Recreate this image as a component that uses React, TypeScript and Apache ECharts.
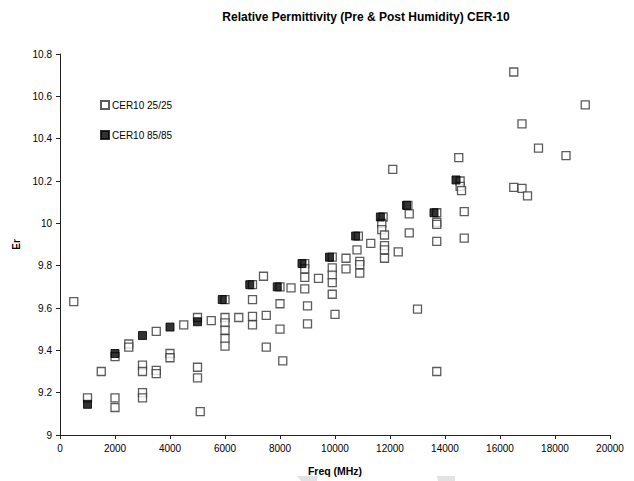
import React, { useEffect, useRef } from "react";
import * as echarts from "echarts";

const TITLE = "Relative Permittivity (Pre & Post Humidity) CER-10";
const X_NAME = "Freq (MHz)";
const Y_NAME = "Er";
const SERIES_NAMES = ["CER10 25/25", "CER10 85/85"];

// CER10 25/25 (open squares): [freq MHz, Er]
const pre: number[][] = [
  [500, 9.63], [1000, 9.175], [1500, 9.3], [2000, 9.37], [2000, 9.175], [2000, 9.13],
  [2500, 9.43], [2500, 9.415], [3000, 9.33], [3000, 9.3], [3000, 9.2], [3000, 9.175],
  [3500, 9.49], [3500, 9.305], [3500, 9.29], [4000, 9.385], [4000, 9.365], [4500, 9.52],
  [5000, 9.555], [5000, 9.32], [5000, 9.27], [5100, 9.11], [5500, 9.54],
  [6000, 9.555], [6000, 9.53], [6000, 9.495], [6000, 9.455], [6000, 9.42], [6000, 9.64],
  [6500, 9.555], [7000, 9.64], [7000, 9.56], [7000, 9.52], [7000, 9.71],
  [7400, 9.75], [7500, 9.565], [7500, 9.415], [8000, 9.62], [8000, 9.5], [8000, 9.7], [8100, 9.35],
  [8400, 9.695], [8900, 9.81], [8900, 9.785], [8900, 9.745], [8900, 9.69], [9000, 9.61], [9000, 9.525],
  [9400, 9.74], [9900, 9.84], [9900, 9.79], [9900, 9.755], [9900, 9.72], [9900, 9.665], [10000, 9.57],
  [10400, 9.835], [10400, 9.785], [10850, 9.94], [10800, 9.875], [10900, 9.82], [10900, 9.805], [10900, 9.765],
  [11300, 9.905], [11750, 10.03], [11700, 10.0], [11700, 9.97], [11800, 9.945], [11800, 9.895], [11800, 9.875], [11800, 9.835],
  [12100, 10.255], [12300, 9.865], [12650, 10.085], [12700, 10.045], [12700, 9.955], [13000, 9.595],
  [13700, 10.05], [13700, 10.005], [13700, 9.995], [13700, 9.915], [13700, 9.3],
  [14500, 10.31], [14550, 10.2], [14550, 10.175], [14600, 10.155], [14700, 10.055], [14700, 9.93],
  [16500, 10.715], [16500, 10.17], [16800, 10.47], [16800, 10.165], [17000, 10.13],
  [17400, 10.355], [18400, 10.32], [19100, 10.56],
];

// CER10 85/85 (filled squares)
const post: number[][] = [
  [1000, 9.145], [2000, 9.385], [3000, 9.47], [4000, 9.51], [5000, 9.535], [5900, 9.64],
  [6900, 9.71], [7900, 9.7], [8800, 9.81], [9800, 9.84], [10750, 9.94], [11650, 10.03],
  [12600, 10.085], [13600, 10.05], [14400, 10.205],
];

const X_MIN = 0, X_MAX = 20000, X_STEP = 2000;
const Y_MIN = 9, Y_MAX = 10.8, Y_STEP = 0.2;

const FONT = '"Liberation Sans", Arial, sans-serif';

export default function App() {
  const ref = useRef<HTMLDivElement>(null);
  useEffect(() => {
    if (!ref.current) return;
    const chart = echarts.init(ref.current, null, { renderer: "svg" });
    chart.setOption({
      animation: false,
      backgroundColor: "#fff",
      textStyle: { fontFamily: FONT },
      graphic: [
        {
          type: "text",
          x: 366,
          y: 17,
          style: {
            text: TITLE,
            fill: "#000",
            font: `bold 12px ${FONT}`,
            textAlign: "center",
            textVerticalAlign: "middle",
          },
        },
        {
          type: "polygon",
          shape: { points: [[297, 476], [318, 476], [317, 481], [301, 481]] },
          style: { fill: "#e2e2e2" },
        },
        {
          type: "polygon",
          shape: { points: [[437, 476], [455, 476], [455, 481], [438, 481]] },
          style: { fill: "#e2e2e2" },
        },
      ],
      legend: {
        orient: "vertical",
        left: 95,
        top: 95,
        itemWidth: 8,
        itemHeight: 8,
        itemGap: 20,
        icon: "rect",
        textStyle: { fontSize: 10, color: "#000", fontFamily: FONT, padding: [0, 0, 0, -2] },
        data: SERIES_NAMES,
      },
      grid: { left: 60, right: 24, top: 54, bottom: 46, containLabel: false },
      xAxis: {
        type: "value",
        min: X_MIN,
        max: X_MAX,
        interval: X_STEP,
        name: X_NAME,
        nameLocation: "middle",
        nameGap: 30,
        nameTextStyle: { fontWeight: "bold", fontSize: 10.5, color: "#000", fontFamily: FONT },
        axisLine: { lineStyle: { color: "#222", width: 1 } },
        axisTick: { show: true, length: 4, lineStyle: { color: "#222" } },
        axisLabel: {
          fontSize: 10,
          color: "#000",
          margin: 8,
          fontFamily: FONT,
          formatter: (v: number) => String(v),
        },
        splitLine: { show: false },
      },
      yAxis: {
        type: "value",
        min: Y_MIN,
        max: Y_MAX,
        interval: Y_STEP,
        name: Y_NAME,
        nameLocation: "middle",
        nameGap: 38,
        nameRotate: 90,
        nameTextStyle: { fontWeight: "bold", fontSize: 10, color: "#000", fontFamily: FONT },
        axisLine: { show: true, lineStyle: { color: "#222", width: 1 } },
        axisTick: { show: true, length: 4, lineStyle: { color: "#222" } },
        axisLabel: {
          fontSize: 10,
          color: "#000",
          margin: 8,
          fontFamily: FONT,
          formatter: (v: number) => String(Math.round(v * 10) / 10),
        },
        splitLine: { show: false },
      },
      series: [
        {
          name: SERIES_NAMES[0],
          type: "scatter",
          symbol: "rect",
          symbolSize: 8,
          data: pre,
          itemStyle: { color: "#fff", borderColor: "#333", borderWidth: 1.3 },
        },
        {
          name: SERIES_NAMES[1],
          type: "scatter",
          symbol: "rect",
          symbolSize: 8,
          data: post,
          itemStyle: { color: "#000", borderColor: "#000", borderWidth: 1 },
        },
      ],
    });
    return () => chart.dispose();
  }, []);
  return <div ref={ref} style={{ width: 634, height: 481, position: "absolute", left: 0, top: 0 }} />;
}
